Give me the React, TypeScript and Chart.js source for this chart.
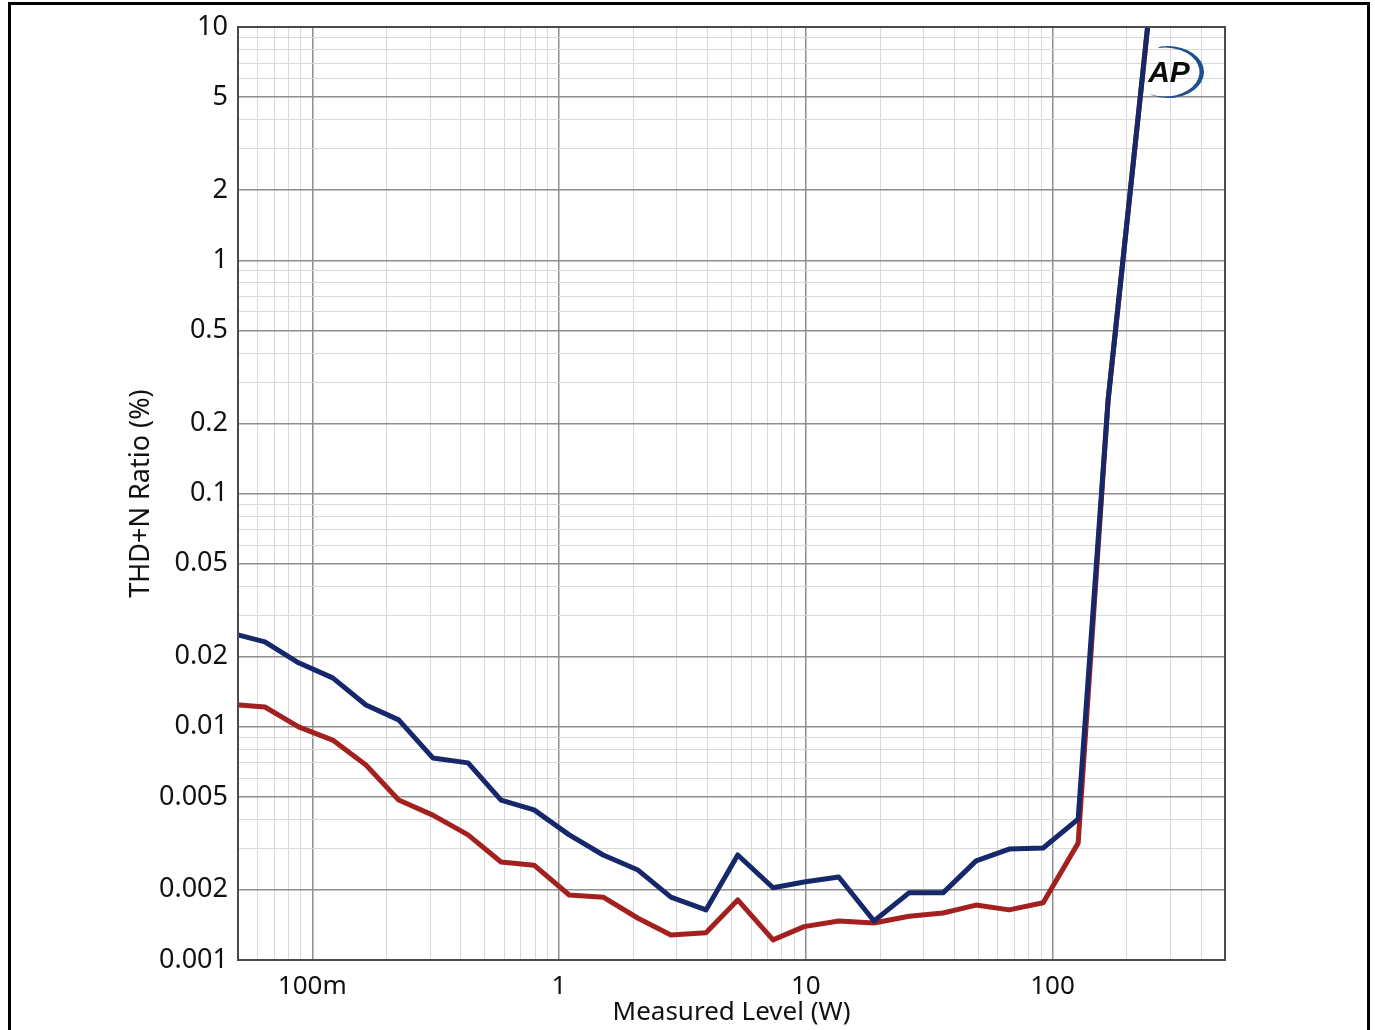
import React, { useEffect, useRef } from "react";
import { Chart, registerables } from "chart.js";

Chart.register(...registerables);

// Output power sweep (W) shared by both channels
const levelsW = [
  0.0504, 0.0643, 0.088, 0.121, 0.165, 0.224, 0.308, 0.428, 0.582, 0.792,
  1.1, 1.51, 2.09, 2.84, 3.94, 5.3, 7.37, 9.84, 13.6, 18.9,
  26.2, 36.0, 49.0, 66.7, 91.6, 127, 168, 232, 260,
];

// THD+N (%) per channel
const thdBlue = [
  0.0247, 0.0231, 0.0188, 0.0162, 0.0124, 0.0107, 0.00735, 0.007, 0.00485, 0.0044,
  0.00344, 0.00282, 0.00243, 0.00186, 0.00164, 0.00282, 0.00204, 0.00216, 0.00227, 0.00147,
  0.00194, 0.00194, 0.00266, 0.00299, 0.00302, 0.00402, 0.252, 6.3, 20,
];
const thdRed = [
  0.0124, 0.01215, 0.00998, 0.00877, 0.00686, 0.00485, 0.00418, 0.00344, 0.00263, 0.00255,
  0.0019, 0.00186, 0.00151, 0.00128, 0.00131, 0.00181, 0.00122, 0.00139, 0.00147, 0.00144,
  0.00154, 0.00159, 0.00172, 0.00164, 0.00176, 0.00317, 0.252, 6.3, 20,
];

// Axis ranges and labelled ticks
const xRange = [0.05, 500];
const yRange = [0.001, 10];
const xLabels: [number, string][] = [
  [0.1, "100m"],
  [1, "1"],
  [10, "10"],
  [100, "100"],
];
const yLabelSignificands = [1, 2, 5];

const fontFamily = "'Noto Sans', 'Open Sans', sans-serif";
const textColor = "#111111";
const gridMajor = "#8e8e8e";
const gridMinor = "#d9d9d9";

const round6 = (v: number) => Number(v.toPrecision(6));
const significand = (v: number) =>
  Math.round(v / Math.pow(10, Math.floor(Math.log10(v) + 1e-9)));
const isDecade = (v: number) => significand(v) === 1;

// every 1..9 x 10^n value between lo and hi
function logGrid(lo: number, hi: number): number[] {
  const out: number[] = [];
  for (let e = Math.floor(Math.log10(lo)); e <= Math.ceil(Math.log10(hi)); e++) {
    for (let s = 1; s <= 9; s++) {
      const v = round6(s * Math.pow(10, e));
      if (v >= lo - 1e-12 && v <= hi + 1e-12) out.push(v);
    }
  }
  return out;
}

const xTickValues = logGrid(xRange[0], xRange[1]);
const yTickValues = logGrid(yRange[0], yRange[1]);

const frameAndLogo = {
  id: "frameAndLogo",
  afterDraw(chart: any) {
    const { ctx, chartArea } = chart;
    const { left, top, right, bottom } = chartArea;
    ctx.save();
    ctx.strokeStyle = "#4a4a4a";
    ctx.lineWidth = 2;
    ctx.strokeRect(left, top, right - left, bottom - top);

    // AP badge: crescent swoosh plus italic letters
    const cx = 1168;
    const cy = 72;
    const a0 = (-102 * Math.PI) / 180;
    const a1 = (116 * Math.PI) / 180;
    ctx.beginPath();
    ctx.ellipse(cx, cy, 36, 26, 0, a0, a1, false);
    ctx.ellipse(cx - 3, cy, 34.5, 24.5, 0, a1, a0, true);
    ctx.closePath();
    ctx.fillStyle = "#1f4f8f";
    ctx.fill();
    ctx.fillStyle = "#0c0c0c";
    ctx.font = "italic bold 30px 'Liberation Sans', Arial, sans-serif";
    ctx.textAlign = "center";
    ctx.textBaseline = "middle";
    ctx.fillText("AP", cx + 1, cy + 2);
    ctx.restore();
  },
};

export default function App() {
  const canvasRef = useRef<HTMLCanvasElement | null>(null);

  useEffect(() => {
    const canvas = canvasRef.current;
    if (!canvas) return;
    const chart = new Chart(canvas, {
      type: "line",
      data: {
        datasets: [
          {
            label: "Ch A",
            data: levelsW.map((x, i) => ({ x, y: thdBlue[i] })),
            borderColor: "#16286a",
            borderWidth: 5,
            pointRadius: 0,
            tension: 0,
            borderJoinStyle: "round",
            borderCapStyle: "round",
          },
          {
            label: "Ch B",
            data: levelsW.map((x, i) => ({ x, y: thdRed[i] })),
            borderColor: "#a3201f",
            borderWidth: 5,
            pointRadius: 0,
            tension: 0,
            borderJoinStyle: "round",
            borderCapStyle: "round",
          },
        ],
      },
      options: {
        responsive: false,
        animation: false,
        devicePixelRatio: 1,
        layout: { padding: { left: 0, top: 27, right: 150, bottom: 0 } },
        plugins: {
          legend: { display: false },
          tooltip: { enabled: false },
        },
        scales: {
          x: {
            type: "logarithmic",
            min: xRange[0],
            max: xRange[1],
            afterBuildTicks: (scale: any) => {
              scale.ticks = xTickValues.map((value) => ({ value }));
            },
            afterFit: (scale: any) => {
              scale.height = 70;
            },
            grid: {
              drawTicks: false,
              lineWidth: (c: any) => (c.tick && isDecade(c.tick.value) ? 1.5 : 1),
              color: (c: any) => (c.tick && isDecade(c.tick.value) ? gridMajor : gridMinor),
            },
            border: { display: false },
            ticks: {
              autoSkip: false,
              maxRotation: 0,
              padding: 11,
              color: textColor,
              font: { family: fontFamily, size: 26 },
              callback: (v: any) => {
                const hit = xLabels.find(([val]) => Math.abs(val - Number(v)) < 1e-9);
                return hit ? hit[1] : "";
              },
            },
            title: {
              display: true,
              text: "Measured Level (W)",
              color: textColor,
              font: { family: fontFamily, size: 26 },
              padding: { top: 0, bottom: 2 },
            },
          },
          y: {
            type: "logarithmic",
            min: yRange[0],
            max: yRange[1],
            afterBuildTicks: (scale: any) => {
              scale.ticks = yTickValues.map((value) => ({ value }));
            },
            afterFit: (scale: any) => {
              scale.width = 238;
            },
            grid: {
              drawTicks: false,
              lineWidth: (c: any) =>
                c.tick && yLabelSignificands.includes(significand(c.tick.value)) ? 1.5 : 1,
              color: (c: any) =>
                c.tick && yLabelSignificands.includes(significand(c.tick.value))
                  ? gridMajor
                  : gridMinor,
            },
            border: { display: false },
            ticks: {
              autoSkip: false,
              padding: 10,
              color: textColor,
              font: { family: fontFamily, size: 27 },
              callback: (v: any) => {
                const n = Number(v);
                return yLabelSignificands.includes(significand(n)) ? String(round6(n)) : "";
              },
            },
            title: {
              display: true,
              text: "THD+N Ratio (%)",
              color: textColor,
              font: { family: fontFamily, size: 27 },
              padding: { top: 125, bottom: 0 },
            },
          },
        },
      },
      plugins: [frameAndLogo],
    } as any);
    return () => chart.destroy();
  }, []);

  return (
    <div
      style={{
        position: "absolute",
        left: 0,
        top: 0,
        width: 1375,
        height: 1030,
        overflow: "hidden",
        background: "#ffffff",
      }}
    >
      <canvas
        ref={canvasRef}
        width={1375}
        height={1030}
        style={{ position: "absolute", left: 0, top: 0, display: "block" }}
      />
      <div
        style={{
          position: "absolute",
          left: 8,
          top: 2,
          width: 1356,
          height: 1100,
          border: "3px solid #000",
          pointerEvents: "none",
        }}
      />
    </div>
  );
}
